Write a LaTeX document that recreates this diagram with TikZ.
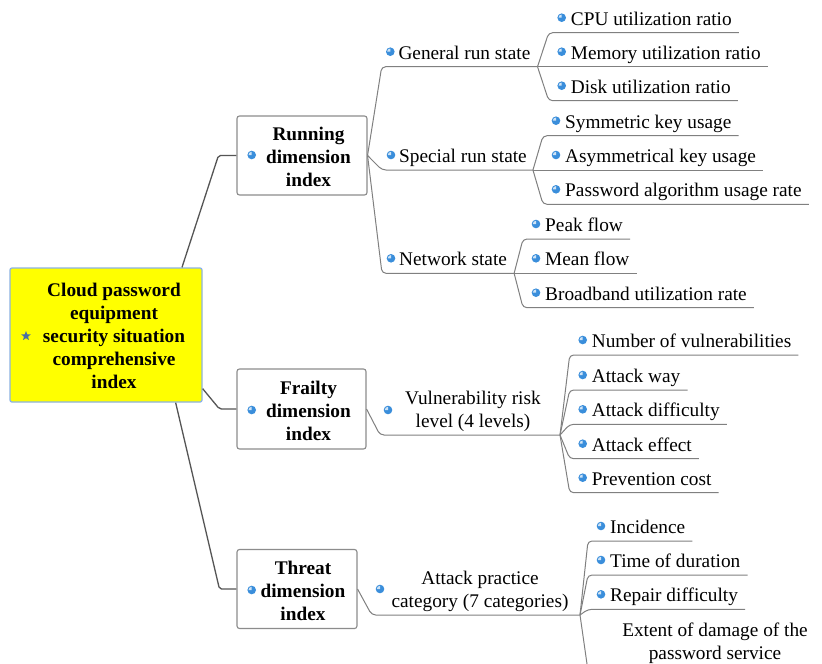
\documentclass[tikz,border=0pt]{standalone}
\usepackage{fontspec}
\setmainfont{Liberation Serif}
\usetikzlibrary{shapes.geometric}

\definecolor{rootfill}{HTML}{FFFF00}
\definecolor{rootedge}{HTML}{8DB3E2}
\definecolor{boxedge}{HTML}{8C8C8C}
\definecolor{trunkcol}{HTML}{555555}
\definecolor{twigcol}{HTML}{808080}
\definecolor{dotblue}{HTML}{3A8EDB}
\definecolor{stargray}{HTML}{4A6FA5}

\begin{document}
\begin{tikzpicture}[x=1pt,y=-1pt,
  every node/.style={font=\fontsize{19.3}{23}\selectfont, text=black},
  rootbox/.style={draw=rootedge, fill=rootfill, line width=1.3pt, rounded corners=2pt,
    minimum width=192pt, minimum height=134pt, inner sep=0},
  dimbox/.style={draw=boxedge, line width=1.1pt, rounded corners=2.5pt,
    minimum height=79pt, inner sep=0},
  boldlabel/.style={font=\fontsize{19.3}{23}\selectfont\bfseries, align=center, inner sep=0},
  twolabel/.style={align=center, inner sep=0},
  leaf/.style={anchor=base west, inner sep=0},
  trunk/.style={draw=trunkcol, line width=1.3pt, rounded corners=2pt},
  twig/.style={draw=twigcol, line width=1pt, rounded corners=4pt},
  ballmark/.pic={
    \fill[dotblue] (0,0) circle[radius=4.3];
    \fill[white!75!dotblue] (0,0) -- (-3.2,0) arc[start angle=180, end angle=270, radius=3.2] -- cycle;
  }
]
\fill[white] (0,0) rectangle (822,664);
\useasboundingbox (0,0) rectangle (822,664);

% ---------- root ----------
\node[rootbox] (root) at (106,335) {};
\node[boldlabel] (rootlbl) at (114,335.5) {Cloud password\\equipment\\security situation\\comprehensive\\index};
\node[star, star points=5, star point ratio=2.3, fill=stargray, inner sep=0, minimum size=10pt] (rootstar) at (26,336) {};

% ---------- dimension boxes ----------
\node[dimbox, minimum width=130pt] (run) at (302,155.5) {};
\node[boldlabel] (runlbl) at (308.5,157) {Running\\dimension\\index};
\pic at (251.7,155) {ballmark};

\node[dimbox, minimum width=129pt, minimum height=80pt] (frail) at (301.5,409) {};
\node[boldlabel] (fraillbl) at (308.5,410.5) {Frailty\\dimension\\index};
\pic at (251.7,410) {ballmark};

\node[dimbox, minimum width=120pt] (threat) at (297,589) {};
\node[boldlabel] (threatlbl) at (303,590.5) {Threat\\dimension\\index};
\pic at (251.7,590) {ballmark};

% root connectors
\draw[trunk] ([xshift=76pt]root.north) -- ([xshift=-18pt]run.west) -- (run.west);
\draw[trunk] ([yshift=14pt]root.south east) -- ([xshift=-17pt]frail.west) -- (frail.west);
\draw[trunk] ([xshift=-27pt]root.south east) -- ([xshift=-17pt]threat.west) -- (threat.west);

% ---------- running dimension ----------
\node[leaf] (gen) at (398.3,59.2) {General run state};
\node[leaf] (spec) at (399,162.5) {Special run state};
\node[leaf] (net) at (399,265.8) {Network state};
\foreach \n in {gen,spec,net} \pic at ([xshift=-8pt,yshift=7.5pt]\n.base west) {ballmark};

\coordinate (genbr) at ([xshift=7pt,yshift=-7.5pt]gen.base east);
\coordinate (specbr) at ([xshift=6pt,yshift=-7.5pt]spec.base east);
\coordinate (netbr) at ([xshift=7pt,yshift=-7.5pt]net.base east);
\draw[twig] (run.east) -- ([xshift=-16.6pt,yshift=-7.5pt]gen.base west) -- (genbr);
\draw[twig] (run.east) -- ([xshift=-17pt,yshift=-7.5pt]spec.base west) -- (specbr);
\draw[twig] (run.east) -- ([xshift=-17pt,yshift=-7.5pt]net.base west) -- (netbr);

\node[leaf] (cpu) at (570.7,25.2) {CPU utilization ratio};
\node[leaf] (mem) at (570.7,59.2) {Memory utilization ratio};
\node[leaf] (disk) at (570.7,93.2) {Disk utilization ratio};
\node[leaf] (sym) at (565,128.2) {Symmetric key usage};
\node[leaf] (asym) at (565,162.5) {Asymmetrical key usage};
\node[leaf] (pwd) at (565,196.8) {Password algorithm usage rate};
\node[leaf] (peak) at (545,231.5) {Peak flow};
\node[leaf] (mean) at (545,265.8) {Mean flow};
\node[leaf] (band) at (545,300.2) {Broadband utilization rate};

% ---------- frailty dimension ----------
\node[twolabel] (vuln) at (473,411.5) {Vulnerability risk\\level (4 levels)};
\pic at (388,410) {ballmark};
\coordinate (vulnL) at (380,435);
\coordinate (vulnbr) at (560,435);
\draw[twig] (frail.east) -- (vulnL) -- (vulnbr);

\node[leaf] (nvul) at (591.7,347.5) {Number of vulnerabilities};
\node[leaf] (away) at (591.7,382.5) {Attack way};
\node[leaf] (adiff) at (591.7,416.8) {Attack difficulty};
\node[leaf] (aeff) at (591.7,451.2) {Attack effect};
\node[leaf] (prev) at (591.7,485.2) {Prevention cost};

% ---------- threat dimension ----------
\node[twolabel] (attk) at (480,591.5) {Attack practice\\category (7 categories)};
\pic at (380,589) {ballmark};
\coordinate (attkL) at (371.7,615);
\coordinate (attkbr) at (580,615);
\draw[twig] (threat.east) -- (attkL) -- (attkbr);

\node[leaf] (inc) at (610,533.5) {Incidence};
\node[leaf] (dur) at (610,567.5) {Time of duration};
\node[leaf] (rep) at (610,601.8) {Repair difficulty};
\node[twolabel] (ext) at (715,643.5) {Extent of damage of the\\password service};
\coordinate (extend) at (587,664);

% bullets of the leaves
\foreach \n in {cpu,mem,disk,sym,asym,pwd,peak,mean,band,nvul,away,adiff,aeff,prev,inc,dur,rep}
  \pic at ([xshift=-9pt,yshift=7.5pt]\n.base west) {ballmark};

% leaf connectors: a slanted stem from the branch point, then an underline
\foreach \br/\n in {genbr/cpu, genbr/disk, specbr/sym, specbr/pwd, netbr/peak, netbr/band,
                    vulnbr/nvul, vulnbr/away, vulnbr/adiff, vulnbr/aeff, vulnbr/prev,
                    attkbr/inc, attkbr/dur, attkbr/rep}
  \draw[twig] (\br) -- ([xshift=-22pt,yshift=-7.5pt]\n.base west) -- ([xshift=7pt,yshift=-7.5pt]\n.base east);
\foreach \br/\n in {genbr/mem, specbr/asym, netbr/mean}
  \draw[twig] (\br) -- ([xshift=7pt,yshift=-7.5pt]\n.base east);
\draw[twig] (attkbr) -- (extend);
\end{tikzpicture}
\end{document}
